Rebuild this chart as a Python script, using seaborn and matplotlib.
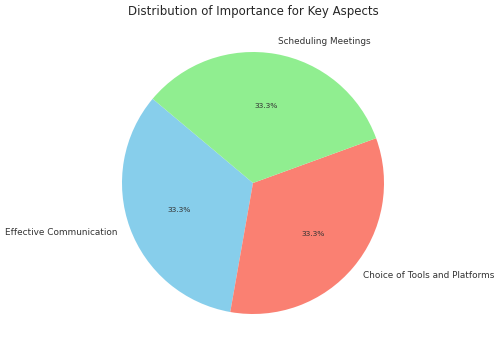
import matplotlib
matplotlib.use("Agg")
import matplotlib.pyplot as plt
import seaborn as sns

labels = ["Effective Communication", "Choice of Tools and Platforms", "Scheduling Meetings"]
values = [1, 1, 1]
colors = ["skyblue", "salmon", "lightgreen"]
title = "Distribution of Importance for Key Aspects"

sns.set_theme(style="white")
plt.rcParams['font.family'] = ['DejaVu Sans']

W, H = 500, 353
fig = plt.figure(figsize=(W / 100, H / 100), dpi=100)
cx, cy, r = 253, 183, 131
side = r * 2.5
ax = fig.add_axes([(cx - side / 2) / W, (H - cy - side / 2) / H, side / W, side / H])

wedges, texts, autotexts = ax.pie(values, labels=labels, colors=colors, startangle=140,
                                  autopct='%1.1f%%', wedgeprops={'linewidth': 0, 'edgecolor': 'none'},
                                  textprops={'fontsize': 6.4, 'color': '#333333'})
for t in autotexts:
    t.set_fontsize(5.4)
ax.set_aspect('equal')
fig.text(253 / W, 1 - 12 / H, title, ha='center', va='center', fontsize=8.5, color='#262626')

fig.savefig("out.png", dpi=100)
